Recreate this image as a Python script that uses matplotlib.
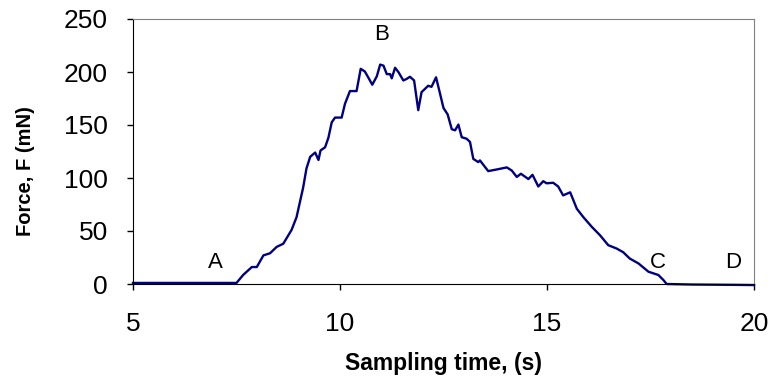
import matplotlib
matplotlib.use("Agg")
import matplotlib.pyplot as plt

plt.rcParams['font.family'] = ['Liberation Sans', 'DejaVu Sans']

time_s = [5.0, 6.0, 7.0, 7.50, 7.66, 7.87, 7.99, 8.15, 8.31, 8.47, 8.63, 8.83, 8.95, 9.03,
          9.11, 9.19, 9.28, 9.34, 9.40, 9.48, 9.53, 9.64, 9.72, 9.80, 9.88, 10.04,
          10.12, 10.24, 10.40, 10.50, 10.60, 10.68, 10.78, 10.89, 10.97, 11.05, 11.13,
          11.21, 11.25, 11.33, 11.41, 11.53, 11.61, 11.69, 11.79, 11.89, 11.97, 12.05,
          12.13, 12.21, 12.32, 12.42, 12.50, 12.60, 12.70, 12.78, 12.86, 12.94, 13.06,
          13.14, 13.22, 13.34, 13.38, 13.58, 13.78, 14.03, 14.15, 14.27, 14.37, 14.55,
          14.65, 14.79, 14.91, 14.99, 15.15, 15.27, 15.39, 15.47, 15.56, 15.72, 15.88,
          16.08, 16.28, 16.48, 16.68, 16.84, 17.00, 17.21, 17.45, 17.69, 17.81, 17.89,
          18.5, 19.5, 20.0]
force_mN = [1.0, 1.0, 1.0, 1.0, 8.5, 16, 16, 27, 29, 35, 38, 51, 63, 77,
            91, 109, 120, 122, 124, 117, 126, 129, 138, 152.5, 157, 157,
            170, 182, 182, 203, 200.5, 195, 188, 196, 207, 206, 198,
            198, 194, 204, 200, 192, 193.5, 195.5, 192, 164, 181, 184,
            187, 186, 195, 179, 166, 160, 146, 145, 150.4, 138.5, 137,
            134, 118, 115, 116.6, 106.5, 108, 110, 107, 101, 104, 99,
            103, 92, 97, 95, 95.5, 92, 83.6, 85, 86.5, 71, 63,
            54, 46, 36.6, 33.5, 30, 24, 19.4, 11.6, 8.5, 3.8, 0,
            -0.5, -0.8, -1.0]

point_labels = ['A', 'B', 'C', 'D']
label_t = [6.98, 11.01, 17.68, 19.49]
label_f = [20.7, 235, 20.7, 20.7]

x_ticks = [5, 10, 15, 20]
y_ticks = [0, 50, 100, 150, 200, 250]

fig = plt.figure(figsize=(7.74, 3.85), dpi=100)
ax = fig.add_axes([133/774, 1-284/385, (754-133)/774, (284-19)/385])

ax.plot(time_s, force_mN, color='#000080', lw=1.7, clip_on=False)
for lab, t, f in zip(point_labels, label_t, label_f):
    ax.text(t, f, lab, ha='center', va='center', fontsize=16)

ax.set_xlim(5, 20)
ax.set_ylim(0, 250)
ax.set_xticks(x_ticks)
ax.set_yticks(y_ticks)
ax.tick_params(axis='both', direction='out', length=4, width=1, labelsize=19)
ax.tick_params(axis='y', pad=14)
ax.tick_params(axis='x', pad=16)
for s in ['top', 'right']:
    ax.spines[s].set_color('#808080')
for s in ['left', 'bottom']:
    ax.spines[s].set_color('black')

ax.set_xlabel('Sampling time, (s)', fontsize=16.5, fontweight='bold', labelpad=12)
ax.set_ylabel('Force, F (mN)', fontsize=14.5, fontweight='bold')
ax.yaxis.set_label_coords(-0.158, 0.425)

fig.savefig('out.png', dpi=100)
